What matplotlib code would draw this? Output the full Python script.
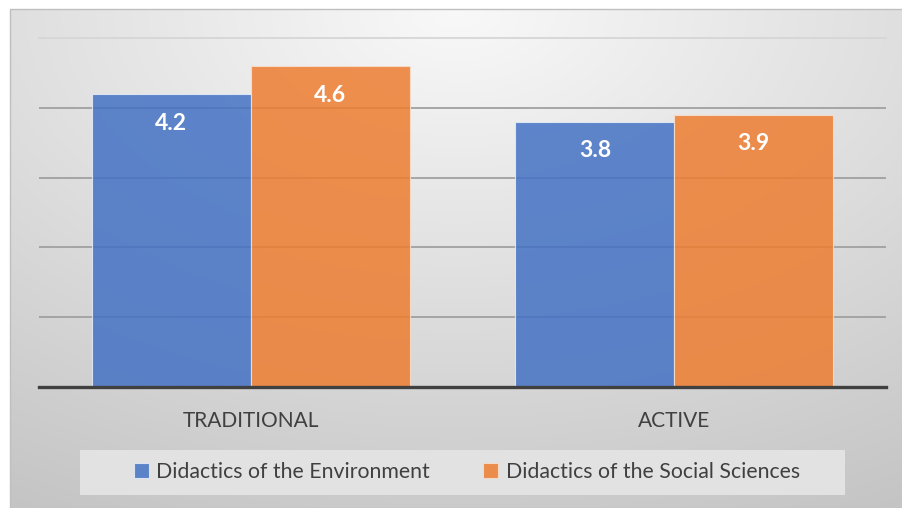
import numpy as np
import matplotlib
matplotlib.use("Agg")
import matplotlib.pyplot as plt
from matplotlib.patches import Rectangle

# datos del gráfico
categorias = ["TRADITIONAL", "ACTIVE"]
series = ["Didactics of the Environment", "Didactics of the Social Sciences"]
val_ambiente = [4.2, 3.8]
val_sociales = [4.6, 3.9]
cores = ["#4472c4", "#ed7d31"]

plt.rcParams['font.family'] = ['Lato', 'DejaVu Sans']

W, H = 903, 508
fig = plt.figure(figsize=(W / 100, H / 100), dpi=100)
fig.patch.set_facecolor("white")

# fondo con degradado radial (más claro arriba al centro)
bg = fig.add_axes([10 / W, 0, 1 - 10 / W, (H - 9) / H])
yy, xx = np.mgrid[0:1:200j, 0:1:300j]
d = np.sqrt(((xx - 0.5) * 1.0) ** 2 + (yy * 0.9) ** 2)
g = np.clip(0.975 - 0.2 * d, 0.75, 1)
bg.imshow(np.dstack([g, g, g]), aspect="auto", extent=[0, 1, 1, 0])
bg.set_axis_off()
bg.set_zorder(0)
fig.patches.append(Rectangle((10 / W, 0), 1 - 10 / W, (H - 9) / H, transform=fig.transFigure,
                             fill=False, edgecolor="#bfbfbf", linewidth=1, zorder=1))

ax = fig.add_axes([39 / W, (H - 387) / H, (886 - 39) / W, (387 - 38) / H])
ax.set_zorder(2)
ax.patch.set_alpha(0)
ax.set_ylim(0, 5)
ax.set_xlim(-0.5, 1.5)

for v in [1, 2, 3, 4]:
    ax.axhline(v, color="#a0a0a0", linewidth=1.3, zorder=1)
ax.axhline(5, color="#d6d6d6", linewidth=1.3, zorder=1, clip_on=False)

x = np.arange(len(categorias))
w = 0.375
b1 = ax.bar(x - w / 2, val_ambiente, w, color=cores[0], alpha=0.85, edgecolor="#e8eef8",
            linewidth=0.8, label=series[0], zorder=2)
b2 = ax.bar(x + w / 2, val_sociales, w, color=cores[1], alpha=0.85, edgecolor="#f6e0d0",
            linewidth=0.8, label=series[1], zorder=2)

for barras in (b1, b2):
    for r in barras:
        v = r.get_height()
        ax.annotate(f"{v}", (r.get_x() + r.get_width() / 2, v), xytext=(0, -21),
                    textcoords="offset points", ha="center", va="center",
                    color="white", fontsize=16.5, fontweight="bold", zorder=3)

for s in ["top", "right", "left"]:
    ax.spines[s].set_visible(False)
ax.spines["bottom"].set_color("#404040")
ax.spines["bottom"].set_linewidth(2.4)
ax.spines["bottom"].set_zorder(4)
ax.set_yticks([])
ax.set_xticks(x)
ax.set_xticklabels(categorias, fontsize=15, color="#404040")
ax.tick_params(axis="x", length=0, pad=17)

# caja de la leyenda
fig.patches.append(Rectangle((80 / W, (H - 495) / H), (845 - 80) / W, 45 / H,
                             transform=fig.transFigure, facecolor="#e2e2e2",
                             edgecolor="none", zorder=1))
leg = fig.legend(handles=[b1, b2], loc="center", bbox_to_anchor=(467 / W, (H - 472) / H),
                 ncol=2, frameon=False, fontsize=15.3, handlelength=0.7, handleheight=0.7,
                 handletextpad=0.35, columnspacing=2.5, labelcolor="#404040")
for h in leg.legend_handles:
    h.set_alpha(0.85)

fig.savefig("out.png", dpi=100)
